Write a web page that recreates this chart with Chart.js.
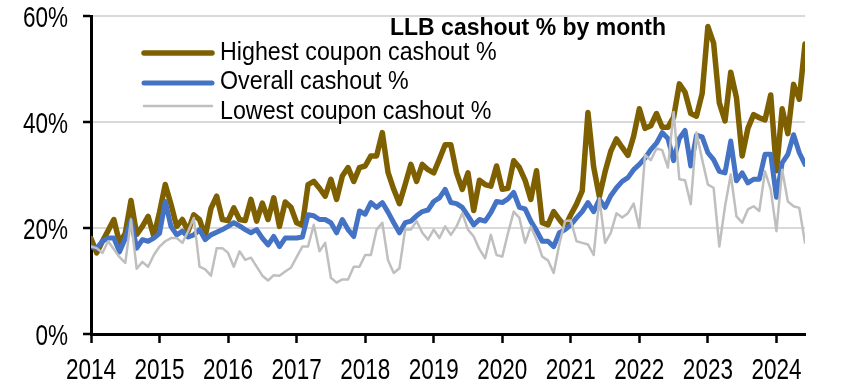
<!DOCTYPE html>
<html>
<head>
<meta charset="utf-8">
<title>LLB cashout % by month</title>
<script src="https://cdn.jsdelivr.net/npm/chart.js@4.4.1/dist/chart.umd.min.js"></script>
<style>
  body { margin: 0; background: #ffffff; }
  #grafico { display: block; }
</style>
</head>
<body>
<canvas id="grafico" width="852" height="391"></canvas>
<script>
// dados mensais, jan/2014 a jun/2024 (valores em %)
const startYear = 2014;
const seriesNames = ['Highest coupon cashout %', 'Overall cashout %', 'Lowest coupon cashout %'];
const chartTitle = 'LLB cashout % by month';
const yTicks = [0, 20, 40, 60];

const highest = [
  18, 15.3, 17.5, 19.5, 21.6, 17.2, 19, 25.2, 18.8, 20.3, 22.2, 18.4,
  23, 28.2, 24.5, 20.3, 21.6, 19.4, 22.5, 21.6, 18.4, 23.7, 26, 21.6,
  21.4, 23.8, 21.6, 21.4, 25.4, 21.3, 24.7, 21.6, 25.7, 20.3, 24.9, 23.9,
  21, 20.5, 28.2, 28.8, 27.5, 26, 29.2, 25.4, 29.8, 31.4, 28.8, 31.4,
  31.7, 33.6, 33.6, 38, 30.5, 27.3, 24.6, 28.2, 32, 28.8, 32, 31,
  30.4, 33, 35.7, 35.7, 30.4, 27.3, 30.4, 23.3, 29, 28.2, 27.9, 31.7,
  27.3, 27.5, 32.7, 31.4, 29, 25.4, 30.8, 21, 20.6, 23.1, 21.6, 20.3,
  22.5, 24.5, 27, 41.8, 31.5, 25.9, 30.6, 34.5, 36.8, 35.2, 33.7, 37.3,
  42.5, 38.8, 39.3, 41.6, 39, 39, 40.9, 47.2, 45.6, 41.6, 41.1, 45.4,
  58, 54.9, 43.6, 40.2, 49.4, 44.6, 33.6, 38.8, 41.4, 40.8, 40.4, 45.1,
  30.8, 42.5, 37.8, 47.1, 44.3, 54.7
];

const overall = [
  16.5, 16.2, 17.5, 18.1, 18.1, 15.5, 18, 21.4, 16.2, 17.8, 17.5, 18.1,
  19, 25, 20.3, 18.7, 19.4, 18.3, 18.7, 19.7, 17.8, 18.7, 19.2, 19.7,
  20.3, 21, 20.4, 19.7, 19.1, 19.7, 18.1, 16.8, 18.4, 16.5, 18.1, 18.1,
  18.1, 18.3, 22.5, 22.3, 21.6, 21.6, 21, 19.1, 21.6, 19.7, 18.4, 23.2,
  22.6, 24.8, 23.9, 24.8, 23, 21, 19.1, 21, 21.3, 22.3, 23.1, 23.4,
  25, 25.7, 27.3, 24.8, 24.6, 23.9, 22.3, 20.6, 21.6, 21.3, 22.9, 25,
  24.8, 25.5, 26.7, 23.9, 23.6, 21.3, 19.5, 17.5, 17.5, 16.5, 19.1, 19.7,
  20.6, 21.9, 23.1, 24.8, 23.1, 25.4, 23.9, 26.1, 27.6, 28.8, 29.5, 31,
  32, 33.2, 34.8, 36, 38, 36.9, 32.7, 36.9, 38.4, 31.7, 37.5, 37.2,
  34.2, 32.9, 30.7, 30.4, 36.4, 28.9, 30.4, 28.5, 29.2, 29.2, 33.9, 33.9,
  25.8, 32.3, 33.9, 37.6, 34.2, 32
];

const lowest = [
  16.5, 16.2, 15.3, 17.5, 16, 14.5, 13.4, 21.6, 12.3, 13.6, 12.7, 14.9,
  16.5, 17.5, 18.1, 18.1, 17.2, 19.4, 21.9, 12.7, 12.2, 11, 16.2, 16.2,
  15.3, 12.7, 15.6, 14, 14.4, 12.7, 11, 10.1, 11.1, 11, 11.8, 12.5,
  14.5, 16.5, 16.5, 20.6, 15.6, 17.2, 10.6, 9.7, 10.3, 10.3, 12.7, 12.7,
  14.9, 14.9, 19.7, 21, 13.9, 11.5, 12.4, 19.7, 19.7, 21.3, 19.1, 17.8,
  19.7, 18.1, 20.3, 18.7, 20.3, 22.8, 19.7, 18.4, 16, 14.3, 18.7, 14.9,
  14.6, 19, 23.1, 21.9, 17.2, 20.3, 17.8, 14.6, 13.9, 11.5, 17, 21.3,
  21.4, 17.5, 17.2, 16.9, 14.9, 25.6, 17.2, 19.1, 22.8, 22, 22.8, 24.6,
  20, 33.8, 32.8, 35, 34.7, 31.4, 41.9, 29.2, 29, 24.5, 38, 32.9,
  28.2, 27.6, 16.5, 24.1, 30.1, 22.2, 21, 23.5, 24.1, 23.2, 30.7, 27.3,
  19.4, 31, 25, 24.1, 23.8, 17.2
];

const cores = ['#7f6000', '#4472c4', '#bfbfbf'];
const espessuras = [5.5, 5, 2.5];

// posição de cada mês no eixo x (ano + fração do mês)
function pontos(valores) {
  return valores.map((v, i) => ({ x: startYear + i / 12, y: v }));
}

// rótulos dos eixos: fonte alta e estreita (texto comprimido na horizontal)
const fonteEixo = "30px 'Liberation Sans', Arial";
const aperto = 0.75;

function textoEstreito(ctx, texto, x, y, alinhamento, escala) {
  ctx.save();
  ctx.translate(x, y);
  ctx.scale(escala, 1);
  ctx.textAlign = alinhamento;
  ctx.fillText(texto, 0, 0);
  ctx.restore();
}

const rotulosEixos = {
  id: 'rotulosEixos',
  afterDraw(chart) {
    const ctx = chart.ctx;
    ctx.save();
    ctx.fillStyle = '#000';
    ctx.font = fonteEixo;
    ctx.textBaseline = 'alphabetic';
    const sx = chart.scales.x;
    sx.ticks.forEach(t => {
      textoEstreito(ctx, String(t.value), sx.getPixelForValue(t.value), 379, 'center', aperto);
    });
    const sy = chart.scales.y;
    sy.ticks.forEach(t => {
      textoEstreito(ctx, t.value + '%', 68, sy.getPixelForValue(t.value) + 11, 'right', aperto);
    });
    ctx.restore();
  }
};

// título e legenda desenhados dentro da área do gráfico
const legendaInterna = {
  id: 'legendaInterna',
  afterDatasetsDraw(chart) {
    const ctx = chart.ctx;
    ctx.save();
    ctx.fillStyle = '#000';
    ctx.textBaseline = 'middle';
    ctx.font = "bold 23px 'Liberation Sans', Arial";
    ctx.textAlign = 'center';
    ctx.fillText(chartTitle, 528, 29);

    const linhasY = [53, 83, 106];
    const textosY = [53, 82, 112];
    ctx.font = "25px 'Liberation Sans', Arial";
    seriesNames.forEach((nome, i) => {
      ctx.beginPath();
      ctx.strokeStyle = cores[i];
      ctx.lineWidth = espessuras[i];
      ctx.lineCap = 'round';
      ctx.moveTo(144, linhasY[i]);
      ctx.lineTo(212, linhasY[i]);
      ctx.stroke();
      textoEstreito(ctx, nome, 220, textosY[i], 'left', 0.93);
    });
    ctx.restore();
  }
};

const series = [highest, overall, lowest];

new Chart(document.getElementById('grafico'), {
  type: 'line',
  data: {
    datasets: series.map((valores, i) => ({
      label: seriesNames[i],
      data: pontos(valores),
      borderColor: cores[i],
      borderWidth: espessuras[i],
      pointRadius: 0,
      tension: 0,
      borderJoinStyle: 'round',
      borderCapStyle: 'round',
      order: 3 - i
    }))
  },
  options: {
    responsive: false,
    animation: false,
    devicePixelRatio: 1,
    layout: { padding: { top: 16, right: 47, left: 0, bottom: 0 } },
    plugins: {
      legend: { display: false },
      title: { display: false },
      tooltip: { enabled: false }
    },
    scales: {
      x: {
        type: 'linear',
        min: startYear,
        max: startYear + (highest.length - 1) / 12,
        afterFit(scale) { scale.height = 57; },
        border: { color: '#000', width: 3 },
        grid: { drawOnChartArea: false, tickLength: 9, tickColor: '#000', tickWidth: 2.5 },
        ticks: { display: false, stepSize: 1, includeBounds: false, maxRotation: 0 }
      },
      y: {
        min: yTicks[0],
        max: yTicks[yTicks.length - 1],
        afterFit(scale) { scale.width = 91; },
        border: { color: '#000', width: 3 },
        grid: { color: '#d9d9d9', lineWidth: 2, tickLength: 8, tickColor: '#000', tickWidth: 2.5 },
        ticks: { display: false, stepSize: 20 }
      }
    }
  },
  plugins: [legendaInterna, rotulosEixos]
});
</script>
</body>
</html>
